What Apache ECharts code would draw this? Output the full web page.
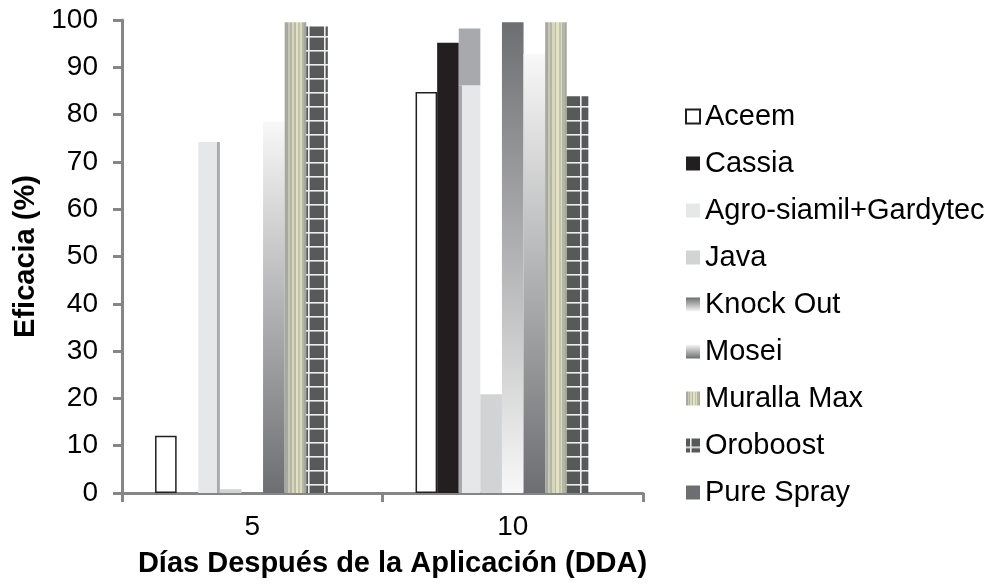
<!DOCTYPE html>
<html>
<head>
<meta charset="utf-8">
<script src="https://cdn.jsdelivr.net/npm/echarts@6/dist/echarts.min.js"></script>
<style>
html,body{margin:0;padding:0;background:#fff;}
#chart{width:991px;height:588px;}
</style>
</head>
<body>
<div id="chart"></div>
<script>
// ---- Data ----
const categories = ['5', '10'];
const seriesNames = ['Aceem', 'Cassia', 'Agro-siamil+Gardytec', 'Java', 'Knock Out', 'Mosei', 'Muralla Max', 'Oroboost', 'Pure Spray'];
const aceem = [12.1, 84.8];
const cassia = [0, 95.2];
const agroSiamil = [74.2, 86.2];
const agroSiamilBackTop = [0, 98.2];
const java = [0.8, 20.9];
const knockOut = [0, 99.5];
const mosei = [78.5, 92.8];
const murallaMax = [99.5, 99.5];
const oroboost = [98.6, 83.9];
const pureSpray = [0, 0];
const yTicks = { min: 0, max: 100, interval: 10 };

// ---- Styles ----
const FONT = 'Liberation Sans, Arial, sans-serif';
const AXIS_COLOR = '#868686';

function gridPattern() {
  const c = document.createElement('canvas');
  c.width = 16; c.height = 14;
  const g = c.getContext('2d');
  g.fillStyle = '#58595b';
  g.fillRect(0, 0, 16, 14);
  g.fillStyle = '#eeeeee';
  g.fillRect(4, 0, 1.6, 14);
  g.fillRect(0, 8, 16, 1.6);
  return c;
}
const oroPattern = { image: gridPattern(), repeat: 'repeat' };

function hStops(list) {
  const stops = [];
  list.forEach(([a, b, col]) => { stops.push({ offset: a, color: col }); stops.push({ offset: b, color: col }); });
  return { type: 'linear', x: 0, y: 0, x2: 1, y2: 0, colorStops: stops };
}
const murallaFill = hStops([
  [0, 0.14, '#a7a9a0'], [0.14, 0.24, '#c8c9b4'], [0.24, 0.32, '#b3b5a8'],
  [0.32, 0.44, '#d6d7bd'], [0.44, 0.52, '#b9bba8'], [0.52, 0.62, '#e3e3c3'],
  [0.62, 0.72, '#c2c4ae'], [0.72, 0.8, '#dcdcbf'], [0.8, 0.9, '#b5b7a5'], [0.9, 1, '#a6a89f']
]);
const knockFill = { type: 'linear', x: 0, y: 0, x2: 0, y2: 1, colorStops: [{ offset: 0, color: '#6d6e71' }, { offset: 1, color: '#f8f8f8' }] };
const moseiFill = { type: 'linear', x: 0, y: 0, x2: 0, y2: 1, colorStops: [{ offset: 0, color: '#f8f8f8' }, { offset: 1, color: '#6d6e71' }] };
const agroRightEdge = hStops([[0, 0.86, '#e6e7e8'], [0.86, 1, '#a7a9ac']]);
const agroLeftEdge = hStops([[0, 0.14, '#a7a9ac'], [0.14, 1, '#e6e7e8']]);

const BW = 21.6;
function bar(name, data, itemStyle, extra) {
  return Object.assign({
    name: name, type: 'bar', data: data, barWidth: BW, barGap: '0%',
    itemStyle: itemStyle, emphasis: { disabled: true }
  }, extra || {});
}

const series = [
  bar(seriesNames[0], aceem, { color: '#ffffff', borderColor: '#231f20', borderWidth: 1.5 }),
  bar(seriesNames[1], cassia, { color: '#231f20' }),
  bar(seriesNames[2], agroSiamil.map((v, i) => ({ value: v, itemStyle: { color: i === 0 ? agroRightEdge : agroLeftEdge } })), { color: '#e6e7e8' }, { stack: 'agro' }),
  bar('Agro-siamil+Gardytec (fondo)', agroSiamilBackTop.map((v, i) => Math.max(0, v - agroSiamil[i])), { color: '#a7a9ac' }, { stack: 'agro' }),
  bar(seriesNames[3], java, { color: '#d1d3d4' }),
  bar(seriesNames[4], knockOut, { color: knockFill }),
  bar(seriesNames[5], mosei, { color: moseiFill }),
  bar(seriesNames[6], murallaMax, { color: murallaFill }),
  bar(seriesNames[7], oroboost, { color: oroPattern }),
  bar(seriesNames[8], pureSpray, { color: '#6d6e71' })
];

const chart = echarts.init(document.getElementById('chart'), null, { renderer: 'canvas' });
chart.setOption({
  animation: false,
  backgroundColor: '#ffffff',
  grid: { left: 122, right: 348, top: 20, bottom: 95, containLabel: false },
  legend: {
    orient: 'vertical', left: 685, top: 102, padding: 0,
    itemWidth: 14, itemHeight: 14, itemGap: 18,
    icon: 'rect',
    data: seriesNames,
    textStyle: { fontFamily: FONT, fontSize: 29, color: '#000000' },
    selectedMode: false
  },
  xAxis: {
    type: 'category', data: categories,
    axisLine: { show: true, lineStyle: { color: AXIS_COLOR, width: 3 } },
    axisTick: { show: true, alignWithLabel: false, length: 9, lineStyle: { color: AXIS_COLOR, width: 3 } },
    axisLabel: { fontFamily: FONT, fontSize: 28, color: '#000000', margin: 20 },
    name: 'Días Después de la Aplicación (DDA)',
    nameLocation: 'middle', nameGap: 56,
    nameTextStyle: { fontFamily: FONT, fontSize: 29, fontWeight: 'bold', color: '#000000', padding: [0, 0, 0, 20] }
  },
  yAxis: {
    type: 'value', min: yTicks.min, max: yTicks.max, interval: yTicks.interval,
    axisLine: { show: true, lineStyle: { color: AXIS_COLOR, width: 3 } },
    axisTick: { show: true, length: 9, lineStyle: { color: AXIS_COLOR, width: 3 } },
    splitLine: { show: false },
    axisLabel: { fontFamily: FONT, fontSize: 28, color: '#000000', margin: 24 },
    name: 'Eficacia (%)',
    nameLocation: 'middle', nameGap: 82,
    nameTextStyle: { fontFamily: FONT, fontSize: 29, fontWeight: 'bold', color: '#000000' }
  },
  series: series
});
</script>
</body>
</html>
